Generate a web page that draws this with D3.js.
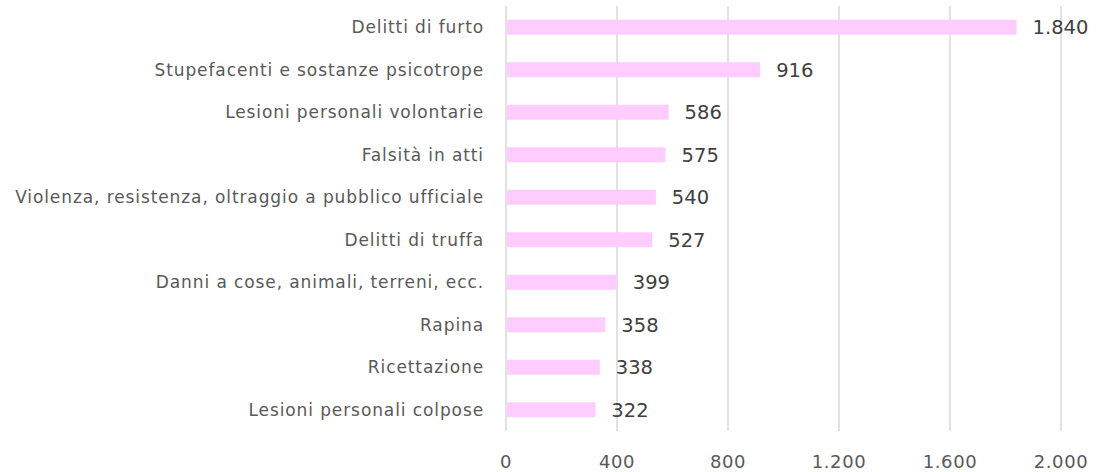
<!DOCTYPE html>
<html><head><meta charset="utf-8">
<script src="https://cdn.jsdelivr.net/npm/d3@7"></script>
<style>body{margin:0;background:#fff}svg{display:block}</style>
</head><body>
<svg id="c" width="1099" height="472"></svg>
<script>
const categories = ["Delitti di furto","Stupefacenti e sostanze psicotrope","Lesioni personali volontarie","Falsità in atti","Violenza, resistenza, oltraggio a pubblico ufficiale","Delitti di truffa","Danni a cose, animali, terreni, ecc.","Rapina","Ricettazione","Lesioni personali colpose"];
const values = [1840,916,586,575,540,527,399,358,338,322];
const tickValues = [0,400,800,1200,1600,2000];

const svg = d3.select("#c");
const font = "DejaVu Sans, sans-serif";
const x = d3.scaleLinear().domain([0,2000]).range([506,1061]);
const y = d3.scaleBand().domain(categories).range([6,431]).paddingInner(0.647).paddingOuter(0.3235);
const fmt = v => d3.format(",")(v).replace(/,/g,".");

svg.append("g").selectAll("line").data(tickValues).join("line")
  .attr("x1",d=>x(d)).attr("x2",d=>x(d)).attr("y1",6).attr("y2",431)
  .attr("stroke","#d9d9d9").attr("stroke-width",1.5);

svg.append("g").selectAll("rect").data(values).join("rect")
  .attr("x",x(0)+1).attr("y",(d,i)=>y(categories[i]))
  .attr("width",d=>x(d)-x(0)-1).attr("height",y.bandwidth())
  .attr("fill","#ffccff");

svg.append("g").selectAll("text").data(values).join("text")
  .attr("x",d=>x(d)+16).attr("y",(d,i)=>y(categories[i])+y.bandwidth()/2)
  .attr("dy","0.36em").attr("font-family",font).attr("font-size",19.5).attr("fill","#404040")
  .text(fmt);

svg.append("g").selectAll("text").data(categories).join("text")
  .attr("x",484).attr("y",d=>y(d)+y.bandwidth()/2).attr("dy","0.36em")
  .attr("text-anchor","end").attr("font-family",font).attr("font-size",17).attr("letter-spacing",0.9).attr("fill","#595959")
  .text(d=>d);

svg.append("g").selectAll("text").data(tickValues).join("text")
  .attr("x",d=>x(d)).attr("y",462).attr("dy","0.36em").attr("text-anchor","middle")
  .attr("font-family",font).attr("font-size",18).attr("letter-spacing",0.6).attr("fill","#595959")
  .text(fmt);
</script>
</body></html>
